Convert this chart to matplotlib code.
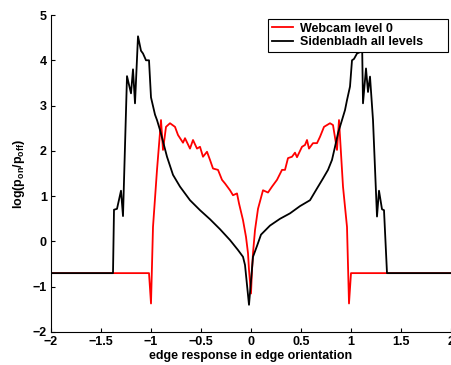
#!/usr/bin/env python3
"""
Log-likelihood ratio of edge response: webcam vs Sidenbladh
"""

import matplotlib
matplotlib.use('Agg')
import matplotlib.pyplot as plt

# Webcam level 0 (red)
webcam_x = [-2.0, -1.02, -1.00, -0.98, -0.94, -0.90, -0.88, -0.85, -0.81, -0.76,
            -0.73, -0.68, -0.66, -0.61, -0.58, -0.54, -0.51, -0.48, -0.44, -0.41,
            -0.38, -0.33, -0.29, -0.26, -0.21, -0.18, -0.14, -0.12, -0.08, -0.05,
            -0.03, -0.02, 0.0, 0.01, 0.02, 0.04, 0.07, 0.12, 0.17, 0.21,
            0.26, 0.31, 0.34, 0.37, 0.41, 0.44, 0.46, 0.51, 0.54, 0.56,
            0.58, 0.62, 0.66, 0.69, 0.73, 0.79, 0.82, 0.86, 0.88, 0.92,
            0.96, 0.98, 1.00, 2.0]
webcam_y = [-0.70, -0.70, -1.37, 0.32, 1.58, 2.68, 2.02, 2.53, 2.61, 2.53,
            2.35, 2.18, 2.28, 2.05, 2.24, 2.05, 2.09, 1.87, 1.98, 1.80,
            1.61, 1.58, 1.36, 1.28, 1.13, 1.02, 1.06, 0.84, 0.47, 0.10,
            -0.26, -0.63, -1.15, -0.63, -0.26, 0.25, 0.72, 1.13, 1.08, 1.21,
            1.36, 1.58, 1.58, 1.84, 1.87, 1.96, 1.86, 2.09, 2.13, 2.24,
            2.05, 2.17, 2.17, 2.31, 2.53, 2.61, 2.57, 2.02, 2.68, 1.21,
            0.32, -1.37, -0.70, -0.70]

# Sidenbladh all levels (black)
siden_x = [-2.0, -1.38, -1.37, -1.34, -1.30, -1.28, -1.24, -1.20, -1.18, -1.16,
           -1.13, -1.10, -1.08, -1.05, -1.02, -1.00, -0.98, -0.96, -0.94, -0.91,
           -0.84, -0.78, -0.71, -0.61, -0.51, -0.41, -0.31, -0.21, -0.13, -0.08,
           -0.06, -0.02, 0.02, 0.06, 0.10, 0.19, 0.29, 0.39, 0.49, 0.59,
           0.66, 0.72, 0.77, 0.81, 0.84, 0.87, 0.91, 0.94, 0.96, 0.99,
           1.01, 1.03, 1.06, 1.09, 1.11, 1.12, 1.15, 1.17, 1.19, 1.22,
           1.26, 1.28, 1.31, 1.33, 1.36, 2.0]
siden_y = [-0.70, -0.70, 0.70, 0.72, 1.12, 0.56, 3.65, 3.27, 3.80, 3.05,
           4.53, 4.21, 4.15, 4.00, 4.00, 3.18, 2.99, 2.80, 2.68, 2.46,
           1.87, 1.47, 1.21, 0.91, 0.69, 0.49, 0.27, 0.03, -0.19, -0.34,
           -0.52, -1.40, -0.34, -0.10, 0.15, 0.35, 0.50, 0.62, 0.78, 0.91,
           1.17, 1.39, 1.58, 1.80, 2.09, 2.39, 2.68, 2.90, 3.12, 3.42,
           4.00, 4.03, 4.15, 4.18, 4.50, 3.05, 3.82, 3.30, 3.64, 2.68,
           0.55, 1.12, 0.71, 0.69, -0.70, -0.70]

plt.rcParams['font.family'] = ['Liberation Sans', 'DejaVu Sans']
plt.rcParams['font.weight'] = 'bold'
plt.rcParams['mathtext.fontset'] = 'custom'
plt.rcParams['mathtext.rm'] = 'Liberation Sans:bold'
plt.rcParams['mathtext.it'] = 'Liberation Sans:bold'

fig = plt.figure(figsize=(4.52, 3.65), dpi=100)
ax = fig.add_axes([51 / 452, 33 / 365, 400 / 452, 317 / 365])

ax.plot(webcam_x, webcam_y, color='#ff0000', linewidth=1.3, label='Webcam level 0')
ax.plot(siden_x, siden_y, color='black', linewidth=1.3, label='Sidenbladh all levels')

ax.set_xlim(-2, 2)
ax.set_ylim(-2, 5)
ax.set_xticks([-2, -1.5, -1, -0.5, 0, 0.5, 1, 1.5, 2])
ax.set_xticklabels(['\u22122', '\u22121.5', '\u22121', '\u22120.5', '0', '0.5', '1', '1.5', '2'])
ax.set_yticks([-2, -1, 0, 1, 2, 3, 4, 5])
ax.set_yticklabels(['\u22122', '\u22121', '0', '1', '2', '3', '4', '5'])
ax.tick_params(direction='in', length=3, width=0.8, labelsize=9, pad=3)

ax.spines['top'].set_visible(False)
ax.spines['right'].set_visible(False)

ax.set_xlabel('edge response in edge orientation', fontsize=9, fontweight='bold', labelpad=1)
ax.set_ylabel(r'log(p$_{\rm on}$/p$_{\rm off}$)', fontsize=9, fontweight='bold', labelpad=4)

# legend box wider on the right, like the original
leg = ax.legend(loc='upper right', bbox_to_anchor=(0.993, 0.987), fontsize=9,
                frameon=True, fancybox=False, edgecolor='black', framealpha=1,
                borderpad=0.3, handlelength=1.7, handletextpad=0.55, labelspacing=0.12,
                borderaxespad=0)
leg.get_frame().set_linewidth(0.8)
for t in leg.get_texts():
    t.set_text(t.get_text() + '      ')

plt.savefig('out.png', dpi=100)
plt.close()
